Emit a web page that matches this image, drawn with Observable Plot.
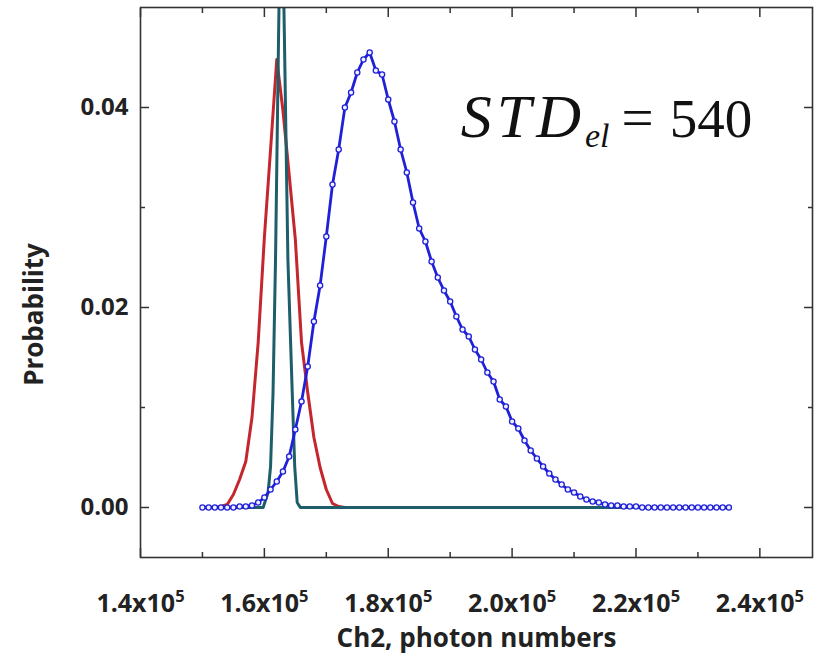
<!DOCTYPE html>
<html><head><meta charset="utf-8">
<script src="https://cdn.jsdelivr.net/npm/d3@7"></script>
<script src="https://cdn.jsdelivr.net/npm/@observablehq/plot@0.6"></script>
<style>html,body{margin:0;padding:0;background:#fff;}</style>
</head><body><div id="chart"></div>
<script>
// photon numbers in thousands
const blueX = [150,151,152,153,154,155,156,157,158,159,160,161,162,163,164,165,166,167,168,169,170,171,172,173,174,175,176,177,178,179,180,181,182,183,184,185,186,187,188,189,190,191,192,193,194,195,196,197,198,199,200,201,202,203,204,205,206,207,208,209,210,211,212,213,214,215,216,217,218,219,220,221,222,223,224,225,226,227,228,229,230,231,232,233,234,235];
const blueY = [0.0000,0.0000,0.0000,0.0000,0.0000,0.0000,0.0001,0.0001,0.0002,0.0005,0.0010,0.0018,0.0026,0.0036,0.0051,0.0078,0.0106,0.0141,0.0186,0.0222,0.0271,0.0323,0.0358,0.0400,0.0415,0.0435,0.0448,0.0455,0.0437,0.0433,0.0408,0.0386,0.0358,0.0335,0.0305,0.0279,0.0266,0.0246,0.0230,0.0217,0.0206,0.0191,0.0178,0.0171,0.0158,0.0148,0.0135,0.0126,0.0108,0.0101,0.0086,0.0079,0.0067,0.0057,0.0049,0.0041,0.0034,0.0028,0.0023,0.0018,0.0015,0.0011,0.0008,0.0006,0.0005,0.0003,0.0002,0.0002,0.0001,0.0001,0.0001,0.0000,0.0000,0.0000,0.0000,0.0000,0.0000,0.0000,0.0000,0.0000,0.0000,0.0000,0.0000,0.0000,0.0000,0.0000];
const redX = [150,151,152,153,154,155,156,157,158,159,160,161,162,163,164,165,166,167,168,169,170,171,172,173,174,235];
const redY = [0.0000,0.0000,0.0000,0.0001,0.0003,0.0013,0.0028,0.0046,0.0090,0.0165,0.0270,0.0358,0.0448,0.0397,0.0333,0.0268,0.0165,0.0115,0.0070,0.0040,0.0018,0.0004,0.0001,0.0000,0.0000,0.0000];
const tealX = [150,159.8,160.6,161.0,161.4,161.8,162.3,162.75,163.8,164.5,164.9,165.3,165.8,235];
const tealY = [0.0000,0.0000,0.0015,0.0041,0.0115,0.0248,0.0475,0.0660,0.0248,0.0115,0.0041,0.0005,0.0000,0.0000];

const xMajorTicks = [140000,160000,180000,200000,220000,240000];
const xMinorTicks = [150000,170000,190000,210000,230000];
const yMajorTicks = [0,0.02,0.04];
const yMinorTicks = [0.01,0.03];
const xTitle = "Ch2, photon numbers";
const yTitle = "Probability";
const note = "STD_el = 540";

const rows = (xs, ys) => xs.map((x, i) => ({x: x * 1000, y: ys[i]}));
const blue = rows(blueX, blueY);
const red = rows(redX, redY);
const teal = rows(tealX, tealY);

const axisColor = "#333";
const plot = Plot.plot({
  width: 828, height: 659,
  marginLeft: 140, marginRight: 16, marginTop: 7, marginBottom: 102,
  x: {domain: [140000, 248500], label: null},
  y: {domain: [-0.005, 0.05], label: null},
  style: {fontFamily: "'Open Sans', sans-serif", fontWeight: "bold", fontSize: "24px", color: "#222", background: "#fff"},
  marks: [
    Plot.line(red, {x: "x", y: "y", stroke: "#c4262d", strokeWidth: 3, clip: true}),
    Plot.line(teal, {x: "x", y: "y", stroke: "#1e5e6a", strokeWidth: 3, clip: true}),
    Plot.line(blue, {x: "x", y: "y", stroke: "#2020d8", strokeWidth: 2.8, clip: true}),
    Plot.dot(blue, {x: "x", y: "y", r: 2.6, stroke: "#2020d8", fill: "#eef0ff", strokeWidth: 1.3}),
    Plot.frame({stroke: axisColor, strokeWidth: 1.6}),
    // inward ticks on all four sides
    Plot.axisX({ticks: xMajorTicks, anchor: "bottom", tickSize: -9, fill: "none", stroke: axisColor, strokeWidth: 1.5, label: null}),
    Plot.axisX({ticks: xMinorTicks, anchor: "bottom", tickSize: -5, fill: "none", stroke: axisColor, strokeWidth: 1.5, label: null}),
    Plot.axisX({ticks: xMajorTicks, anchor: "top", tickSize: -9, fill: "none", stroke: axisColor, strokeWidth: 1.5, label: null}),
    Plot.axisX({ticks: xMinorTicks, anchor: "top", tickSize: -5, fill: "none", stroke: axisColor, strokeWidth: 1.5, label: null}),
    Plot.axisY({ticks: yMajorTicks, anchor: "left", tickSize: -9, fill: "none", stroke: axisColor, strokeWidth: 1.5, label: null}),
    Plot.axisY({ticks: yMinorTicks, anchor: "left", tickSize: -5, fill: "none", stroke: axisColor, strokeWidth: 1.5, label: null}),
    Plot.axisY({ticks: yMajorTicks, anchor: "right", tickSize: -9, fill: "none", stroke: axisColor, strokeWidth: 1.5, label: null}),
    Plot.axisY({ticks: yMinorTicks, anchor: "right", tickSize: -5, fill: "none", stroke: axisColor, strokeWidth: 1.5, label: null}),
    // tick labels
    Plot.axisX({ticks: xMajorTicks, anchor: "bottom", tickSize: 0, tickPadding: 37, tickFormat: d => (d / 1e5).toFixed(1) + "x10", fill: "#222", fontSize: 25, label: null}),
    Plot.axisY({ticks: yMajorTicks, anchor: "left", tickSize: 0, tickPadding: 12, tickFormat: d => d.toFixed(2), fill: "#222", fontSize: 24, label: null}),
    // titles
    Plot.text([xTitle], {frameAnchor: "bottom", dy: 89, text: d => d, fill: "#222", fontSize: 26}),
    Plot.text([yTitle], {frameAnchor: "left", textAnchor: "middle", dx: -106, dy: 32, rotate: -90, text: d => d, fill: "#222", fontSize: 26}),
    // annotation
    Plot.text([note], {x: 191700, y: 0.0371, text: d => d, textAnchor: "start", lineAnchor: "bottom", fontSize: 55, fontFamily: "'Liberation Serif', serif", fontWeight: "normal", fill: "#111"})
  ]
});

const svg = d3.select(plot);
// superscript exponent on x tick labels
svg.selectAll('g[aria-label="x-axis tick label"] text').each(function() {
  d3.select(this).append("tspan").attr("dy", "-0.62em").attr("font-size", "0.66em").text("5");
});
// subscript in annotation
svg.selectAll("text").filter(function() { return this.textContent === note; }).each(function() {
  const t = d3.select(this);
  t.text(null);
  t.append("tspan").attr("font-style", "italic").attr("font-size", "62px").attr("letter-spacing", "5px").text("STD");
  t.append("tspan").attr("font-style", "italic").attr("font-size", "34px").attr("dx", "-1").attr("dy", "10").text("el");
  t.append("tspan").attr("dy", "-10").attr("dx", "12").attr("font-size", "57px").text("=");
  t.append("tspan").attr("dx", "16").text("540");
});
document.getElementById("chart").append(plot);
</script>
</body></html>
